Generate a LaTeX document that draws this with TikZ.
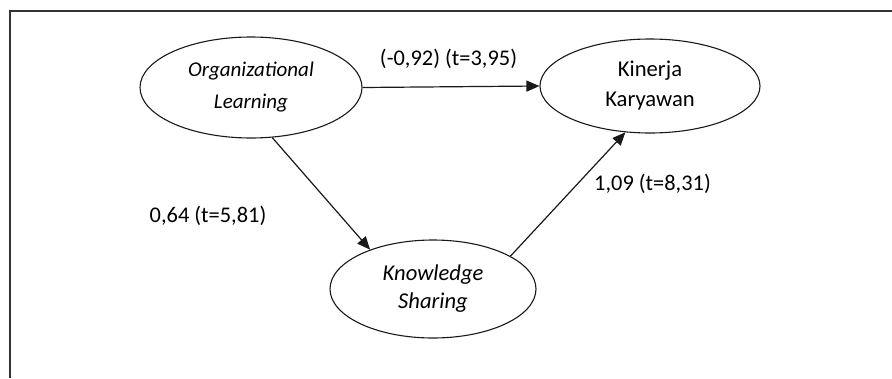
\documentclass[tikz,border=0pt]{standalone}
\usepackage{fontspec}
\setmainfont{Carlito}
\usetikzlibrary{shapes.geometric,arrows.meta}
\tikzset{
  construct/.style={ellipse, draw=black!90, line width=1.1pt, inner sep=0pt, align=center},
  path/.style={draw=black!90, line width=1.2pt, -{Triangle[length=13pt,width=11pt]}},
  coef/.style={font=\fontsize{22.4}{26}\selectfont, inner sep=0pt},
  frameline/.style={draw=black!80, line width=1.6pt}
}
\begin{document}
\begin{tikzpicture}[x=1pt,y=-1pt]
\useasboundingbox (0,0) rectangle (892,378);
\coordinate (fA) at (10,378);
\coordinate (fB) at (10,11);
\coordinate (fC) at (892,11);
\draw[frameline] (fA) -- (fB) -- (fC);

\node[construct, minimum width=222pt, minimum height=101pt,
      font=\fontsize{21}{32}\selectfont\itshape] (ol) at (251,87.5) {Organizational\\Learning};
\node[construct, minimum width=220pt, minimum height=94pt,
      font=\fontsize{22.6}{30}\selectfont] (kk) at (650,86) {Kinerja\\Karyawan};
\node[construct, minimum width=206pt, minimum height=98pt,
      font=\fontsize{22.6}{28}\selectfont\itshape] (ks) at (433,289) {Knowledge\\Sharing};

\draw[path] (ol.east) -- (kk.west);
\draw[path] (ol.-67.1) -- (ks.148);
\draw[path] (ks.23) -- (kk.-118.1);

\node[coef] (l1) at (448.5,59) {(-0,92) (t=3,95)};
\node[coef] (l2) at (208,216) {0,64 (t=5,81)};
\node[coef] (l3) at (652.5,184) {1,09 (t=8,31)};
\end{tikzpicture}
\end{document}
